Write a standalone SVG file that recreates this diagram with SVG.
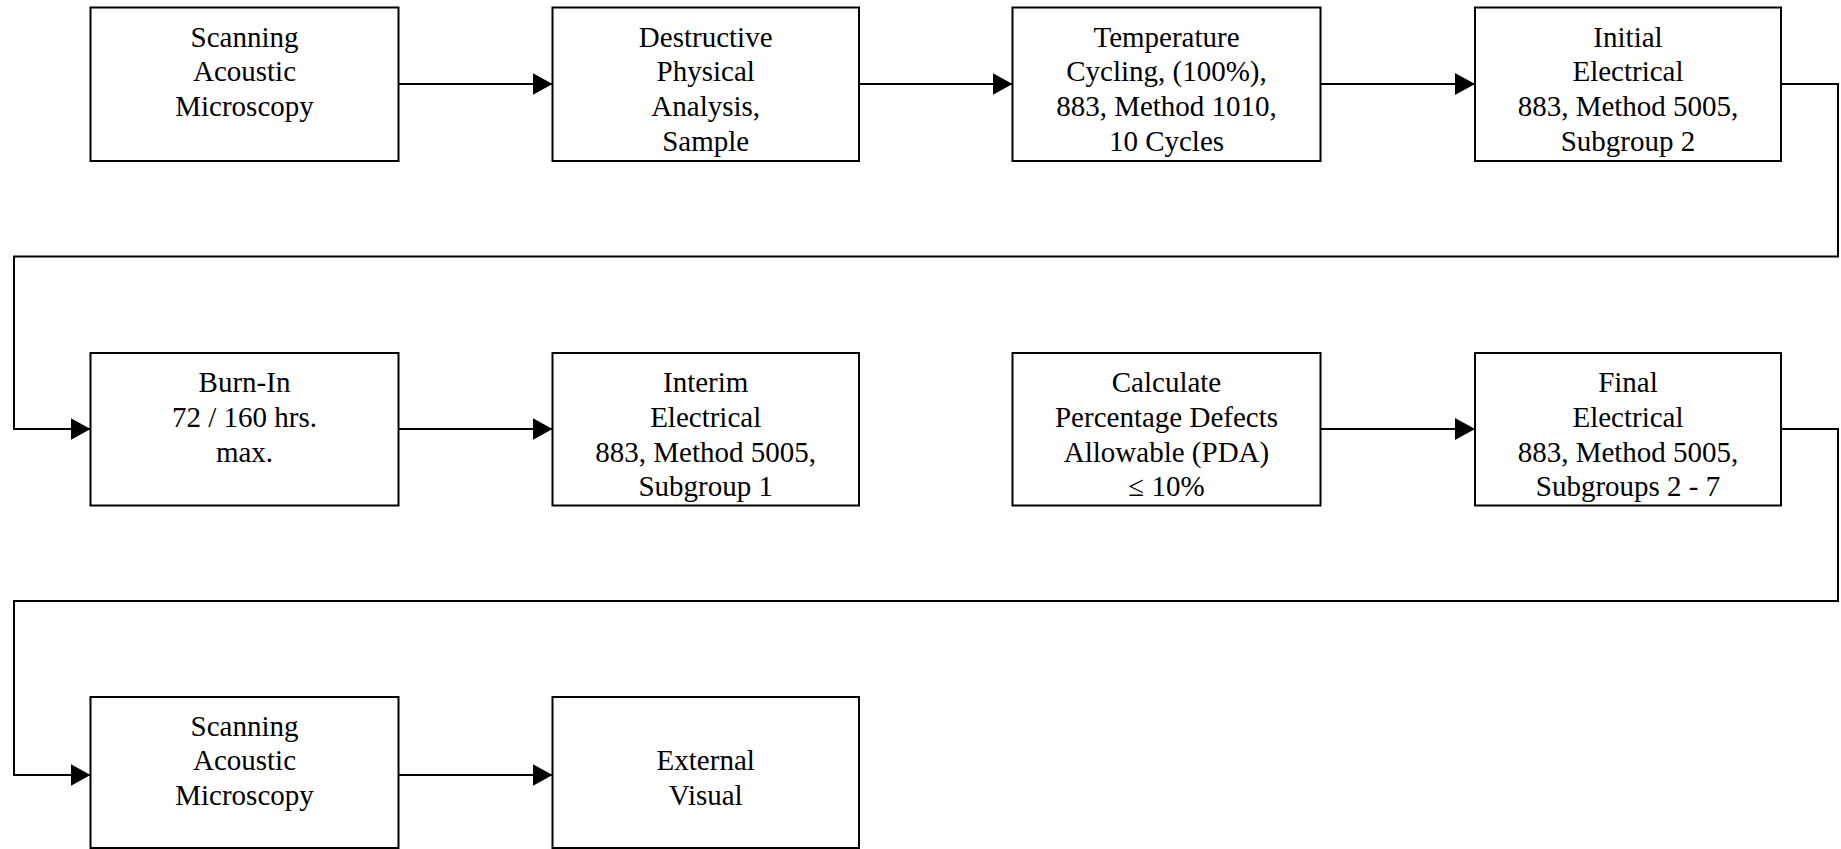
<svg xmlns="http://www.w3.org/2000/svg" width="1841" height="849" viewBox="0 0 1841 849">
  <style>
    .box { fill: #ffffff; stroke: #000000; stroke-width: 2; }
    .wire { fill: none; stroke: #000000; stroke-width: 2; }
    .lbl { font-family: "Liberation Serif", "Times New Roman", serif; font-size: 29px; fill: #000000; text-anchor: middle; }
  </style>
  <defs>
    <marker id="arrow" markerUnits="userSpaceOnUse" markerWidth="22" markerHeight="24" refX="20" refY="11" orient="auto">
      <path d="M0,0 L20,11 L0,22 Z" fill="#000000"/>
    </marker>
  </defs>
  <rect width="1841" height="849" fill="#ffffff"/>

  <!-- connectors -->
  <g id="connectors">
    <line class="wire" x1="398.5" y1="84" x2="552.5" y2="84" marker-end="url(#arrow)"/>
    <line class="wire" x1="859" y1="84" x2="1012.5" y2="84" marker-end="url(#arrow)"/>
    <line class="wire" x1="1320.5" y1="84" x2="1475" y2="84" marker-end="url(#arrow)"/>
    <polyline class="wire" points="1781,84 1838,84 1838,256.5 14,256.5 14,429 90.5,429" marker-end="url(#arrow)"/>
    <line class="wire" x1="398.5" y1="429" x2="552.5" y2="429" marker-end="url(#arrow)"/>
    <line class="wire" x1="1320.5" y1="429" x2="1475" y2="429" marker-end="url(#arrow)"/>
    <polyline class="wire" points="1781,429 1838,429 1838,601 14,601 14,775 90.5,775" marker-end="url(#arrow)"/>
    <line class="wire" x1="398.5" y1="775" x2="552.5" y2="775" marker-end="url(#arrow)"/>
  </g>

  <!-- row 1 -->
  <g id="sam-initial">
    <rect class="box" x="90.5" y="7.5" width="308" height="153.5"/>
    <text class="lbl" x="244.5" y="46.5">Scanning</text>
    <text class="lbl" x="244.5" y="81.3">Acoustic</text>
    <text class="lbl" x="244.5" y="116">Microscopy</text>
  </g>
  <g id="dpa">
    <rect class="box" x="552.5" y="7.5" width="306.5" height="153.5"/>
    <text class="lbl" x="705.7" y="46.5">Destructive</text>
    <text class="lbl" x="705.7" y="81.3">Physical</text>
    <text class="lbl" x="705.7" y="116">Analysis,</text>
    <text class="lbl" x="705.7" y="150.8">Sample</text>
  </g>
  <g id="temp-cycling">
    <rect class="box" x="1012.5" y="7.5" width="308" height="153.5"/>
    <text class="lbl" x="1166.5" y="46.5">Temperature</text>
    <text class="lbl" x="1166.5" y="81.3">Cycling, (100%),</text>
    <text class="lbl" x="1166.5" y="116">883, Method 1010,</text>
    <text class="lbl" x="1166.5" y="150.8">10 Cycles</text>
  </g>
  <g id="initial-electrical">
    <rect class="box" x="1475" y="7.5" width="306" height="153.5"/>
    <text class="lbl" x="1628" y="46.5">Initial</text>
    <text class="lbl" x="1628" y="81.3">Electrical</text>
    <text class="lbl" x="1628" y="116">883, Method 5005,</text>
    <text class="lbl" x="1628" y="150.8">Subgroup 2</text>
  </g>

  <!-- row 2 -->
  <g id="burn-in">
    <rect class="box" x="90.5" y="353" width="308" height="152.5"/>
    <text class="lbl" x="244.5" y="392">Burn-In</text>
    <text class="lbl" x="244.5" y="426.8">72 / 160 hrs.</text>
    <text class="lbl" x="244.5" y="461.5">max.</text>
  </g>
  <g id="interim-electrical">
    <rect class="box" x="552.5" y="353" width="306.5" height="152.5"/>
    <text class="lbl" x="705.7" y="392">Interim</text>
    <text class="lbl" x="705.7" y="426.8">Electrical</text>
    <text class="lbl" x="705.7" y="461.5">883, Method 5005,</text>
    <text class="lbl" x="705.7" y="496.3">Subgroup 1</text>
  </g>
  <g id="pda">
    <rect class="box" x="1012.5" y="353" width="308" height="152.5"/>
    <text class="lbl" x="1166.5" y="392">Calculate</text>
    <text class="lbl" x="1166.5" y="426.8">Percentage Defects</text>
    <text class="lbl" x="1166.5" y="461.5">Allowable (PDA)</text>
    <text class="lbl" x="1166.5" y="496.3">≤ 10%</text>
  </g>
  <g id="final-electrical">
    <rect class="box" x="1475" y="353" width="306" height="152.5"/>
    <text class="lbl" x="1628" y="392">Final</text>
    <text class="lbl" x="1628" y="426.8">Electrical</text>
    <text class="lbl" x="1628" y="461.5">883, Method 5005,</text>
    <text class="lbl" x="1628" y="496.3">Subgroups 2 - 7</text>
  </g>

  <!-- row 3 -->
  <g id="sam-final">
    <rect class="box" x="90.5" y="697" width="308" height="151"/>
    <text class="lbl" x="244.5" y="735.5">Scanning</text>
    <text class="lbl" x="244.5" y="770.3">Acoustic</text>
    <text class="lbl" x="244.5" y="805">Microscopy</text>
  </g>
  <g id="external-visual">
    <rect class="box" x="552.5" y="697" width="306.5" height="151"/>
    <text class="lbl" x="705.7" y="770.3">External</text>
    <text class="lbl" x="705.7" y="805">Visual</text>
  </g>
</svg>
